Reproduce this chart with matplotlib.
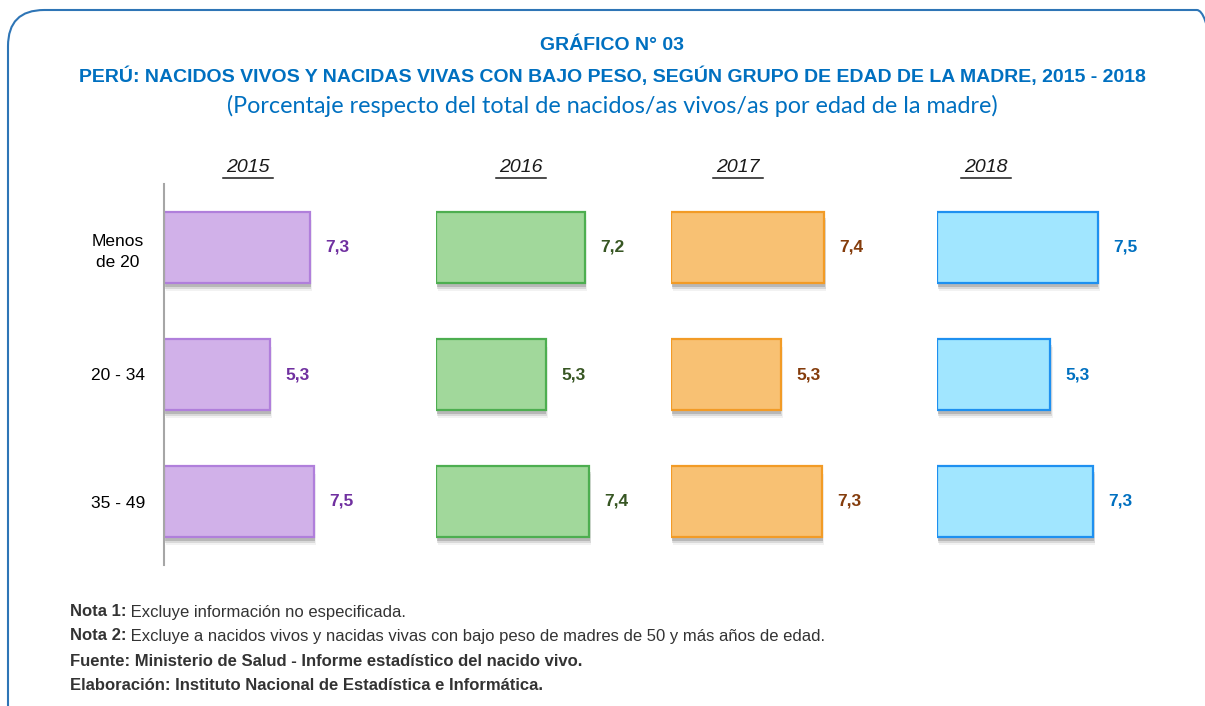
import matplotlib
matplotlib.use("Agg")
import matplotlib.pyplot as plt
from matplotlib.patches import FancyBboxPatch
import matplotlib.patheffects as pe

years = ["2015", "2016", "2017", "2018"]
categories = ["Menos\nde 20", "20 - 34", "35 - 49"]
values_2015 = [7.3, 5.3, 7.5]
values_2016 = [7.2, 5.3, 7.4]
values_2017 = [7.4, 5.3, 7.3]
values_2018 = [7.5, 5.3, 7.3]
series = [values_2015, values_2016, values_2017, values_2018]
labels = [[f"{v:.1f}".replace(".", ",") for v in s] for s in series]

fills = ["#D1B1E9", "#A1D89B", "#F8C173", "#A1E6FF"]
edges = ["#B07FDB", "#4DAE50", "#F29B26", "#1E90F0"]
txtcol = ["#7030A0", "#375623", "#843C0C", "#0070C0"]

W, H = 1205, 706
fig = plt.figure(figsize=(W / 100, H / 100), dpi=100)
NARROW = ["Liberation Sans Narrow", "Liberation Sans", "DejaVu Sans"]

# frame
frame = FancyBboxPatch((8 / W, -0.05), (W + 20) / W, (H - 10) / H + 0.05,
                       boxstyle="round,pad=0,rounding_size=0.03",
                       transform=fig.transFigure, fill=False,
                       edgecolor="#2E75B6", linewidth=1.5,
                       mutation_aspect=W / H)
fig.patches.append(frame)

blue = "#0070C0"
fig.text(612 / W, 1 - 46 / H, "GRÁFICO N° 03", ha="center", va="center",
         color=blue, fontsize=14, fontweight="bold", family=NARROW)
fig.text(612 / W, 1 - 76 / H,
         "PERÚ: NACIDOS VIVOS Y NACIDAS VIVAS CON BAJO PESO, SEGÚN GRUPO DE EDAD DE LA MADRE, 2015 - 2018",
         ha="center", va="center", color=blue, fontsize=14, fontweight="bold", family=NARROW)
fig.text(612 / W, 1 - 106 / H,
         "(Porcentaje respecto del total de nacidos/as vivos/as por edad de la madre)",
         ha="center", va="center", color=blue, fontsize=16.8, fontweight="normal",
         family=["Lato", "DejaVu Sans"])

# axes geometry (pixels): zero-left, pixels per unit
lefts = [164, 436, 671, 937]
ppu = [20.0, 20.7, 20.7, 21.4]
year_x = [248, 521, 738, 986]
top_px, bot_px = 184, 565
span = 10

for i, (vals, labs) in enumerate(zip(series, labels)):
    width_px = ppu[i] * span
    ax = fig.add_axes([lefts[i] / W, 1 - bot_px / H, width_px / W, (bot_px - top_px) / H])
    ax.set_xlim(0, span)
    ax.set_ylim(2.5, -0.5)
    ax.patch.set_alpha(0)
    for s in ["top", "right", "bottom"]:
        ax.spines[s].set_visible(False)
    if i == 0:
        ax.spines["left"].set_color("#A6A6A6")
        ax.spines["left"].set_linewidth(1.5)
        ax.set_yticks(range(len(categories)))
        ax.set_yticklabels(categories, fontsize=12.5, family=NARROW, ha="center",
                           linespacing=1.5)
        ax.tick_params(axis="y", length=0, pad=33)
    else:
        ax.spines["left"].set_visible(False)
        ax.set_yticks([])
    ax.set_xticks([])
    bars = ax.barh(range(len(vals)), vals, height=0.56, color=fills[i],
                   edgecolor=edges[i], linewidth=1.6)
    for b in bars:
        b.set_path_effects([
            pe.SimplePatchShadow(offset=(1.5, -6), shadow_rgbFace="#999999", alpha=0.12),
            pe.SimplePatchShadow(offset=(1, -4.5), shadow_rgbFace="#777777", alpha=0.2),
            pe.SimplePatchShadow(offset=(0.5, -3), shadow_rgbFace="#555555", alpha=0.25),
            pe.Normal()])
    for y, (v, t) in enumerate(zip(vals, labs)):
        ax.annotate(t, (v, y), xytext=(11, 0), textcoords="offset points",
                    ha="left", va="center", color=txtcol[i], fontsize=12.5,
                    fontweight="bold", family=NARROW)
    fig.text(year_x[i] / W, 1 - 167 / H, years[i], ha="center", va="center",
             fontsize=14, fontstyle="italic", color="#1a1a1a",
             family=["Liberation Sans", "DejaVu Sans"])
    fig.add_artist(plt.Line2D([(year_x[i] - 25) / W, (year_x[i] + 25) / W],
                              [1 - 178 / H, 1 - 178 / H], color="#1a1a1a", linewidth=1.1))

notes = [
    ("Nota 1:", " Excluye información no especificada."),
    ("Nota 2:", " Excluye a nacidos vivos y nacidas vivas con bajo peso de madres de 50 y más años de edad."),
    ("Fuente: Ministerio de Salud - Informe estadístico del nacido vivo.", ""),
    ("Elaboración: Instituto Nacional de Estadística e Informática.", ""),
]
ys = [612, 636, 661, 686]
renderer = fig.canvas.get_renderer()
for (b, r), y in zip(notes, ys):
    t = fig.text(70 / W, 1 - y / H, b, ha="left", va="center", fontsize=12,
                 fontweight="bold", color="#333333", family=NARROW)
    if r:
        bb = t.get_window_extent(renderer=renderer)
        fig.text(bb.x1 / W, 1 - y / H, r, ha="left", va="center", fontsize=12,
                 color="#333333", family=NARROW)

fig.savefig("out.png", dpi=100)
